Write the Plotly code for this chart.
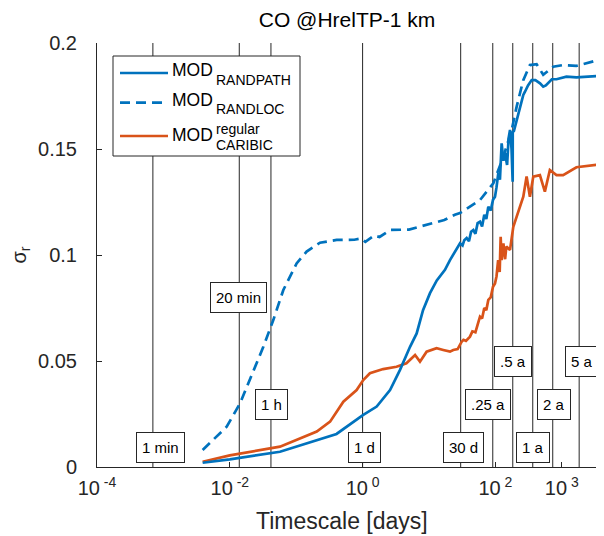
import plotly.graph_objects as go
import math

# ---------------- data ----------------
randpath_days = [0.0039, 0.01, 0.057, 0.2, 0.405, 1.01, 1.63, 2.59, 3.66, 5.18, 6.52, 8.13,
                 10.35, 13.1, 17.4, 20.7, 24, 27.5, 29.3, 32, 34, 36.9, 40, 43, 46.5, 50, 54,
                 58.6, 63, 68, 73, 78.2, 85, 92, 98.6, 104, 110.7, 117, 124.2, 132, 139.6, 150,
                 158, 166, 175, 182, 182.5, 190, 197, 210, 221, 240, 263, 279, 310, 352, 400,
                 470, 525, 575, 640, 708, 832, 1175, 1660, 2400, 3311]
randpath_sigma = [0.002, 0.0036, 0.0072, 0.0124, 0.0156, 0.0245, 0.0285, 0.0363, 0.0458, 0.0567,
                  0.063, 0.074, 0.082, 0.088, 0.093, 0.0976, 0.101, 0.104, 0.1055, 0.1045, 0.107,
                  0.108, 0.1065, 0.111, 0.1118, 0.110, 0.115, 0.1157, 0.1135, 0.119, 0.117, 0.1228,
                  0.121, 0.126, 0.1275, 0.132, 0.1387, 0.1355, 0.1527, 0.1445, 0.148, 0.1425, 0.155,
                  0.159, 0.150, 0.1346, 0.158, 0.1585, 0.1605, 0.163, 0.1668, 0.171, 0.1755, 0.177,
                  0.180, 0.1825, 0.1825, 0.181, 0.1794, 0.180, 0.1815, 0.1829, 0.1829, 0.1841,
                  0.1838, 0.1842, 0.1844]

randloc_days = [0.0039, 0.00565, 0.00897, 0.01426, 0.0201, 0.032, 0.0452, 0.064, 0.1014, 0.1435,
                0.228, 0.407, 0.75, 0.95, 1.1, 1.3, 1.5, 1.8, 2.59, 5.0, 10.35, 17.0, 24.5, 29.3,
                58.9, 93, 132, 176, 209, 263, 331, 417, 525, 741, 1047, 1660, 3311]
randloc_sigma = [0.008, 0.0127, 0.019, 0.030, 0.041, 0.0567, 0.0693, 0.0835, 0.096, 0.1016,
                 0.1058, 0.1071, 0.1072, 0.1078, 0.1062, 0.108, 0.1092, 0.1085, 0.1118, 0.112,
                 0.1145, 0.1165, 0.119, 0.1198, 0.126, 0.1338, 0.1464, 0.159, 0.170, 0.1825,
                 0.1896, 0.190, 0.185, 0.1888, 0.1896, 0.1892, 0.1917]

caribic_days = [0.0039, 0.01, 0.057, 0.102, 0.204, 0.324, 0.513, 0.813, 1.023, 1.288, 2.04, 3.24,
                4.57, 6.17, 7.31, 9.2, 13, 16.4, 20.7, 23.2, 27, 30.9, 33, 36, 41.4, 45, 50, 55,
                58.6, 63, 68, 73, 78.2, 85, 92, 98.6, 104, 110, 116, 120, 124, 132, 140, 146,
                166, 186, 221, 263, 295, 331, 372, 468, 556, 661, 832, 1047, 1660, 3311]
caribic_sigma = [0.0025, 0.0055, 0.0096, 0.0127, 0.0167, 0.0214, 0.0308, 0.0363, 0.041, 0.0442,
                 0.0462, 0.0473, 0.0489, 0.0528, 0.0497, 0.0544, 0.056, 0.0552, 0.0544, 0.0552,
                 0.0556, 0.059, 0.060, 0.0595, 0.0615, 0.064, 0.0635, 0.068, 0.0709, 0.070, 0.075,
                 0.074, 0.0788, 0.080, 0.085, 0.0866, 0.090, 0.0976, 0.092, 0.1086, 0.0976, 0.1055,
                 0.098, 0.104, 0.1024, 0.1133, 0.1204, 0.1275, 0.137, 0.1275, 0.137, 0.1377,
                 0.1299, 0.1401, 0.1377, 0.1377, 0.1414, 0.1425]

marker_labels = ["1 min", "20 min", "1 h", "1 d", "30 d", ".25 a", ".5 a", "1 a", "2 a", "5 a"]
marker_days = [1 / 1440, 1 / 72, 1 / 24, 1, 30, 365.25 / 4, 365.25 / 2, 365.25, 730.5, 1826.25]

x_tick_vals = [1e-4, 1e-2, 1, 1e2, 1e3]
x_tick_text = ["10<sup> -4</sup>", "10<sup> -2</sup>", "10<sup> 0</sup>", "10<sup> 2</sup>", "10<sup> 3</sup>"]
y_tick_vals = [0, 0.05, 0.1, 0.15, 0.2]
y_tick_text = ["0", "0.05", "0.1", "0.15", "0.2"]

series_names = ["RANDPATH", "RANDLOC", "CARIBIC"]

# ---------------- style / layout ----------------
W, H = 604, 536
OFF = 8  # page body margin around the figure
L, R, T, B = 97, 599, 43, 467  # plot area in page pixels
X_MIN_LOG, X_MAX_LOG = -4, -4 + (R - L) / 66.4
BLUE = "#0072BD"
ORANGE = "#D95319"
AX = "#262626"
FONT = "Liberation Sans, Arial, sans-serif"


def px(x):
    return (x - L) / (R - L)


def py(y):
    return (B - y) / (B - T)


fig = go.Figure()

# vertical marker lines
vx, vy = [], []
for d in marker_days:
    vx += [d, d, None]
    vy += [0, 0.2, None]
fig.add_trace(go.Scatter(x=vx, y=vy, mode="lines", line=dict(color=AX, width=1),
                         hoverinfo="skip", showlegend=False))

fig.add_trace(go.Scatter(x=caribic_days, y=caribic_sigma, mode="lines",
                         line=dict(color=ORANGE, width=2.7), name=series_names[2], showlegend=False))
fig.add_trace(go.Scatter(x=randloc_days, y=randloc_sigma, mode="lines",
                         line=dict(color=BLUE, width=2.7, dash="10px,6px"), name=series_names[1],
                         showlegend=False))
fig.add_trace(go.Scatter(x=randpath_days, y=randpath_sigma, mode="lines",
                         line=dict(color=BLUE, width=2.7), name=series_names[0], showlegend=False))

# label boxes for markers: (y level, x shift px)
label_place = [(0.009, 8), (0.080, -1), (0.0297, 1), (0.009, 2), (0.009, 3),
               (0.0297, -5), (0.05, 0), (0.009, 0), (0.0297, 1), (0.05, 3)]
annotations = []
for lab, d, (yl, xs) in zip(marker_labels, marker_days, label_place):
    annotations.append(dict(x=math.log10(d), y=yl, xref="x", yref="y", text=lab, showarrow=False,
                            xanchor="center", yanchor="middle", xshift=xs, height=19,
                            font=dict(family=FONT, size=15, color="black"),
                            bgcolor="white", bordercolor=AX, borderwidth=1, borderpad=5))

# custom legend
shapes = [dict(type="rect", xref="paper", yref="paper", x0=px(113), x1=px(300), y0=py(156), y1=py(56),
               line=dict(color=AX, width=1), fillcolor="white", layer="above")]
leg_rows = [(73, "solid", BLUE), (102.7, "10px,6px", BLUE), (136, "solid", ORANGE)]
for yy, dash, col in leg_rows:
    shapes.append(dict(type="line", xref="paper", yref="paper", x0=px(120), x1=px(168),
                       y0=py(yy), y1=py(yy), line=dict(color=col, width=2.7, dash=dash), layer="above"))


def legtext(x, y, text, size, color="black"):
    annotations.append(dict(x=px(x), y=py(y), xref="paper", yref="paper", text=text, showarrow=False,
                            xanchor="left", yanchor="middle", font=dict(family=FONT, size=size, color=color)))


legtext(170, 70, "MOD", 17.5)
legtext(214, 80, series_names[0], 14)
legtext(170, 99.5, "MOD", 17.5)
legtext(214, 109, series_names[1], 14)
legtext(170, 134.5, "MOD", 17.5)
legtext(214, 129, "regular", 14)
legtext(214, 144.5, series_names[2], 14)

# x-axis title (as annotation for exact placement)
annotations.append(dict(x=px(341.5), y=py(521), xref="paper", yref="paper", text="Timescale [days]",
                        showarrow=False, xanchor="center", yanchor="middle",
                        font=dict(family=FONT, size=23, color=AX)))

fig.update_layout(
    width=W, height=H,
    margin=dict(l=L - OFF, r=W - (R - OFF), t=T - OFF, b=H - (B - OFF), pad=0),
    paper_bgcolor="white", plot_bgcolor="white",
    showlegend=False,
    font=dict(family=FONT, color=AX),
    title=dict(text="CO @HrelTP-1 km", x=px(347), xref="paper", xanchor="center",
               y=1 - (20 - OFF) / H, yref="container", yanchor="middle",
               font=dict(family=FONT, size=21, color="black")),
    annotations=annotations,
    shapes=shapes,
)
fig.update_xaxes(type="log", range=[X_MIN_LOG, X_MAX_LOG], tickvals=x_tick_vals, ticktext=x_tick_text,
                 ticks="inside", ticklen=5, tickcolor=AX, showline=True, linecolor=AX, linewidth=1,
                 showgrid=False, zeroline=False, tickfont=dict(family=FONT, size=20, color=AX),
                 ticklabelstandoff=3, automargin=False)
fig.update_yaxes(range=[0, 0.2], tickvals=y_tick_vals, ticktext=y_tick_text,
                 ticks="inside", ticklen=5, tickcolor=AX, showline=True, linecolor=AX, linewidth=1,
                 showgrid=False, zeroline=False, tickfont=dict(family=FONT, size=20, color=AX),
                 ticklabelstandoff=15, automargin=False,
                 title=dict(text="σ<sub>r</sub>", font=dict(family=FONT, size=20, color=AX), standoff=14))

fig.write_html("out.html")
